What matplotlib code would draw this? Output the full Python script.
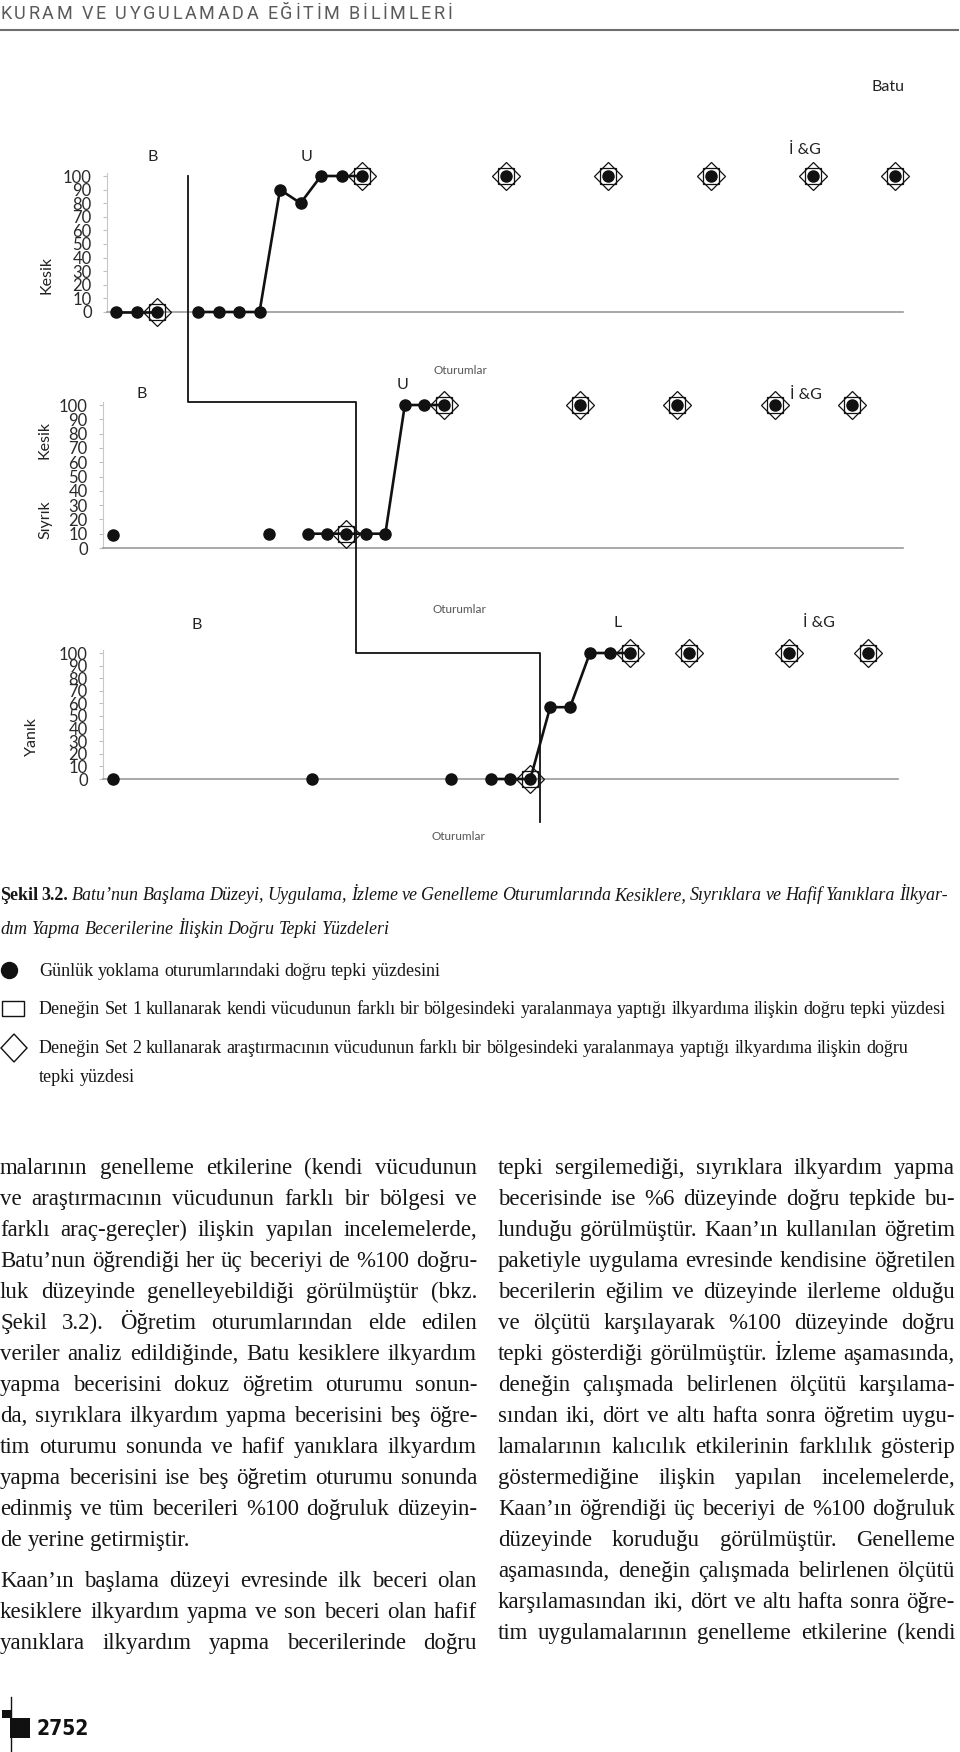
import matplotlib
matplotlib.use('Agg')
import matplotlib.pyplot as plt
from matplotlib.lines import Line2D
from matplotlib.patches import Rectangle, Polygon

W, H = 960, 1752

# session number and percent of correct responses
kesik_sessions = [1, 2, 3, 5, 6, 7, 8, 9, 10, 11, 12, 13, 20, 25, 30, 35, 39]
kesik_values = [0, 0, 0, 0, 0, 0, 0, 90, 80, 100, 100, 100, 100, 100, 100, 100, 100]
kesik_runs = [(1, 3), (5, 13)]
kesik_set1 = [3, 13, 20, 25, 30, 35, 39]
kesik_set2 = [3, 13, 20, 25, 30, 35, 39]

siyrik_sessions = [1, 9, 11, 12, 13, 14, 15, 16, 17, 18, 25, 30, 35, 39]
siyrik_values = [9, 10, 10, 10, 10, 10, 10, 100, 100, 100, 100, 100, 100, 100]
siyrik_runs = [(11, 18)]
siyrik_set1 = [13, 18, 25, 30, 35, 39]
siyrik_set2 = [13, 18, 25, 30, 35, 39]

yanik_sessions = [1, 11, 18, 20, 21, 22, 23, 24, 25, 26, 27, 30, 35, 39]
yanik_values = [0, 0, 0, 0, 0, 0, 57, 57, 100, 100, 100, 100, 100, 100]
yanik_runs = [(20, 27)]
yanik_set1 = [22, 27, 30, 35, 39]
yanik_set2 = [22, 27, 30, 35, 39]

phase_changes = [4.5, 13.5, 22.5]
yticks = list(range(0, 101, 10))

header = 'KURAM VE UYGULAMADA EĞİTİM BİLİMLERİ'
caption1 = [('Şekil', 'b'), ('3.2.', 'b')] + [(w, 'i') for w in
    'Batu’nun Başlama Düzeyi, Uygulama, İzleme ve Genelleme Oturumlarında '
    'Kesiklere, Sıyrıklara ve Hafif Yanıklara İlkyar-'.split()]
caption2 = 'dım Yapma Becerilerine İlişkin Doğru Tepki Yüzdeleri'
legend_texts = [
    'Günlük yoklama oturumlarındaki doğru tepki yüzdesini',
    'Deneğin Set 1 kullanarak kendi vücudunun farklı bir bölgesindeki yaralanmaya yaptığı ilkyardıma ilişkin doğru tepki yüzdesi',
    'Deneğin Set 2 kullanarak araştırmacının vücudunun farklı bir bölgesindeki yaralanmaya yaptığı ilkyardıma ilişkin doğru',
    'tepki yüzdesi',
]
left_col = [
    'malarının genelleme etkilerine (kendi vücudunun',
    've araştırmacının vücudunun farklı bir bölgesi ve',
    'farklı araç-gereçler) ilişkin yapılan incelemelerde,',
    'Batu’nun öğrendiği her üç beceriyi de %100 doğru-',
    'luk düzeyinde genelleyebildiği görülmüştür (bkz.',
    'Şekil 3.2). Öğretim oturumlarından elde edilen',
    'veriler analiz edildiğinde, Batu kesiklere ilkyardım',
    'yapma becerisini dokuz öğretim oturumu sonun-',
    'da, sıyrıklara ilkyardım yapma becerisini beş öğre-',
    'tim oturumu sonunda ve hafif yanıklara ilkyardım',
    'yapma becerisini ise beş öğretim oturumu sonunda',
    'edinmiş ve tüm becerileri %100 doğruluk düzeyin-',
    'de yerine getirmiştir.',
    '',
    'Kaan’ın başlama düzeyi evresinde ilk beceri olan',
    'kesiklere ilkyardım yapma ve son beceri olan hafif',
    'yanıklara ilkyardım yapma becerilerinde doğru',
]
right_col = [
    'tepki sergilemediği, sıyrıklara ilkyardım yapma',
    'becerisinde ise %6 düzeyinde doğru tepkide bu-',
    'lunduğu görülmüştür. Kaan’ın kullanılan öğretim',
    'paketiyle uygulama evresinde kendisine öğretilen',
    'becerilerin eğilim ve düzeyinde ilerleme olduğu',
    've ölçütü karşılayarak %100 düzeyinde doğru',
    'tepki gösterdiği görülmüştür. İzleme aşamasında,',
    'deneğin çalışmada belirlenen ölçütü karşılama-',
    'sından iki, dört ve altı hafta sonra öğretim uygu-',
    'lamalarının kalıcılık etkilerinin farklılık gösterip',
    'göstermediğine ilişkin yapılan incelemelerde,',
    'Kaan’ın öğrendiği üç beceriyi de %100 doğruluk',
    'düzeyinde koruduğu görülmüştür. Genelleme',
    'aşamasında, deneğin çalışmada belirlenen ölçütü',
    'karşılamasından iki, dört ve altı hafta sonra öğre-',
    'tim uygulamalarının genelleme etkilerine (kendi',
]

SANS = ['Lato', 'DejaVu Sans']
SERIF = ['Liberation Serif', 'DejaVu Serif']

fig = plt.figure(figsize=(W / 100, H / 100), dpi=100)
page = fig.add_axes([0, 0, 1, 1])
page.set_xlim(0, W)
page.set_ylim(H, 0)
page.axis('off')
renderer = fig.canvas.get_renderer()


def text_width(t):
    return t.get_window_extent(renderer=renderer).width


def put_words(words, x0, x1, y, size, justify=True):
    arts = []
    for w, st in words:
        kw = dict(family=SERIF, color='#161616')
        if st == 'b':
            kw['weight'] = 'bold'
        elif st == 'i':
            kw['style'] = 'italic'
        arts.append(page.text(0, y, w, fontsize=size, va='baseline', ha='left', **kw))
    widths = [text_width(a) for a in arts]
    gap = size * 0.25 / 0.72
    if justify and len(arts) > 1:
        gap = (x1 - x0 - sum(widths)) / (len(arts) - 1)
    x = x0
    for a, w in zip(arts, widths):
        a.set_x(x)
        x += w + gap


# header with letter spacing
chars = [page.text(0, 14, c, fontsize=13, family=['Roboto', 'DejaVu Sans'],
                   color='#5a5a5a', va='center', ha='left') for c in header]
cw = [text_width(c) if c.get_text() != ' ' else 4 for c in chars]
track = (452 - sum(cw)) / (len(chars) - 1)
x = 0
for c, w in zip(chars, cw):
    c.set_x(x)
    x += w + track
page.plot([0, 958], [30, 30], color='#6e6e6e', lw=1.5)
page.text(888, 87, 'Batu', fontsize=11.5, family=SANS, ha='center', va='center', color='#222')

panels = [
    dict(sessions=kesik_sessions, values=kesik_values, runs=kesik_runs,
         set1=kesik_set1, set2=kesik_set2, px=(107, 903, 312, 176), xlim=(0.56, 39.39),
         labels=[('B', 2.8, 114), ('U', 10.3, 114), ('İ &G', 34.6, 119)], xlab=(17.8, 58)),
    dict(sessions=siyrik_sessions, values=siyrik_values, runs=siyrik_runs,
         set1=siyrik_set1, set2=siyrik_set2, px=(103, 903, 548, 405), xlim=(0.49, 41.6),
         labels=[('B', 2.5, 108), ('U', 15.9, 114), ('İ &G', 36.6, 107)], xlab=(18.8, 61)),
    dict(sessions=yanik_sessions, values=yanik_values, runs=yanik_runs,
         set1=yanik_set1, set2=yanik_set2, px=(103, 898, 779, 653), xlim=(0.50, 40.5),
         labels=[('B', 5.2, 122), ('L', 26.4, 124), ('İ &G', 36.5, 124)], xlab=(18.4, 58)),
]

axes = []
for p in panels:
    l, r, y0, y100 = p['px']
    ytop = y0 - (y0 - y100) * 1.02
    ax = fig.add_axes([l / W, 1 - y0 / H, (r - l) / W, (y0 - ytop) / H])
    ax.patch.set_visible(False)
    ax.set_xlim(*p['xlim'])
    ax.set_ylim(0, 102)
    ax.set_yticks(yticks)
    ax.set_xticks([])
    ax.tick_params(axis='y', length=3, color='#c0c0c0', labelsize=12, pad=8, labelcolor='#2a2a2a')
    for lab in ax.get_yticklabels():
        lab.set_family(SANS)
    for s in ['top', 'right']:
        ax.spines[s].set_visible(False)
    ax.spines['left'].set_color('#c8c8c8')
    ax.spines['bottom'].set_color('#9a9a9a')
    ax.spines['bottom'].set_linewidth(1.2)

    val = dict(zip(p['sessions'], p['values']))
    ax.plot(p['set1'], [val[s] for s in p['set1']], ls='none', marker='s', ms=12,
            mfc='none', mec='#111', mew=0.9, clip_on=False, zorder=3)
    ax.plot(p['set2'], [val[s] for s in p['set2']], ls='none', marker='D', ms=14,
            mfc='none', mec='#111', mew=0.9, clip_on=False, zorder=3)
    for a, b in p['runs']:
        xs = [s for s in p['sessions'] if a <= s <= b]
        ax.plot(xs, [val[s] for s in xs], color='#111', lw=1.9, clip_on=False, zorder=4)
    ax.plot(p['sessions'], p['values'], ls='none', marker='o', ms=8, color='#111',
            clip_on=False, zorder=5)
    for txt, s, yv in p['labels']:
        ax.text(s, yv, txt, fontsize=11.5, family=SANS, ha='center', va='center', color='#222',
                zorder=6, bbox=dict(fc='white', ec='none', pad=0.5) if '&' in txt else None)
    ax.annotate('Oturumlar', xy=(p['xlab'][0], 0), xytext=(0, -p['xlab'][1] * 0.72),
                textcoords='offset points', fontsize=8.5, family=SANS, color='#555',
                ha='center', va='center')
    axes.append(ax)

for txt, x, y in [('Kesik', 47, 275), ('Kesik', 45, 440), ('Sıyrık', 45, 520), ('Yanık', 32, 737)]:
    page.text(x, y, txt, rotation=90, fontsize=11.5, family=SANS, ha='center', va='center', color='#222')

# phase change line running through the three panels
pts = []
a1, a2, a3 = axes
pts.append(a1.transData.transform((phase_changes[0], 100)))
pts.append(a1.transData.transform((phase_changes[0], 0)) * [1, 0] + a2.transData.transform((0, 102)) * [0, 1])
pts.append(a2.transData.transform((phase_changes[1], 102)))
pts.append(a2.transData.transform((phase_changes[1], 0)) * [1, 0] + a3.transData.transform((0, 100)) * [0, 1])
pts.append(a3.transData.transform((phase_changes[2], 100)))
pts.append(a3.transData.transform((phase_changes[2], -34)))
fpts = fig.transFigure.inverted().transform(pts)
fig.add_artist(Line2D(fpts[:, 0], fpts[:, 1], color='#111', lw=1.3, transform=fig.transFigure, zorder=10))

# caption and legend
put_words(caption1, 0, 948, 900, 13)
put_words([(w, 'i') for w in caption2.split()], 0, 948, 934, 13, justify=False)
page.plot([9], [970], marker='o', ms=11.5, color='#111')
page.add_patch(Rectangle((2, 1001), 22, 15, fc='none', ec='#111', lw=1))
page.add_patch(Polygon([(14, 1034), (27, 1048), (14, 1062), (1, 1048)], closed=True, fc='none', ec='#111', lw=1))
for txt, y in zip(legend_texts, [976, 1014, 1053, 1082]):
    put_words([(w, 'r') for w in txt.split()], 39, 948, y, 13, justify=False)

# body text, two justified columns
size = 16.5
y = 1174
for i, line in enumerate(left_col):
    if line:
        last = i == len(left_col) - 1 or left_col[i + 1] == ''
        put_words([(w, 'r') for w in line.split()], 0, 477, y, size,
                  justify=not last or i == len(left_col) - 1)
        y += 31
    else:
        y += 10
y = 1174
for line in right_col:
    put_words([(w, 'r') for w in line.split()], 498, 955, y, size)
    y += 31

# page number mark
page.plot([11, 11], [1697, 1752], color='#111', lw=1)
page.add_patch(Rectangle((10, 1718), 20, 20, fc='#111', ec='none'))
page.add_patch(Rectangle((2, 1710), 9, 8, fc='#111', ec='none'))
page.text(37, 1729, '2752', fontsize=15, weight='bold', family='DejaVu Sans', stretch='condensed',
          ha='left', va='center', color='#111')

fig.savefig('out.png', dpi=100)
